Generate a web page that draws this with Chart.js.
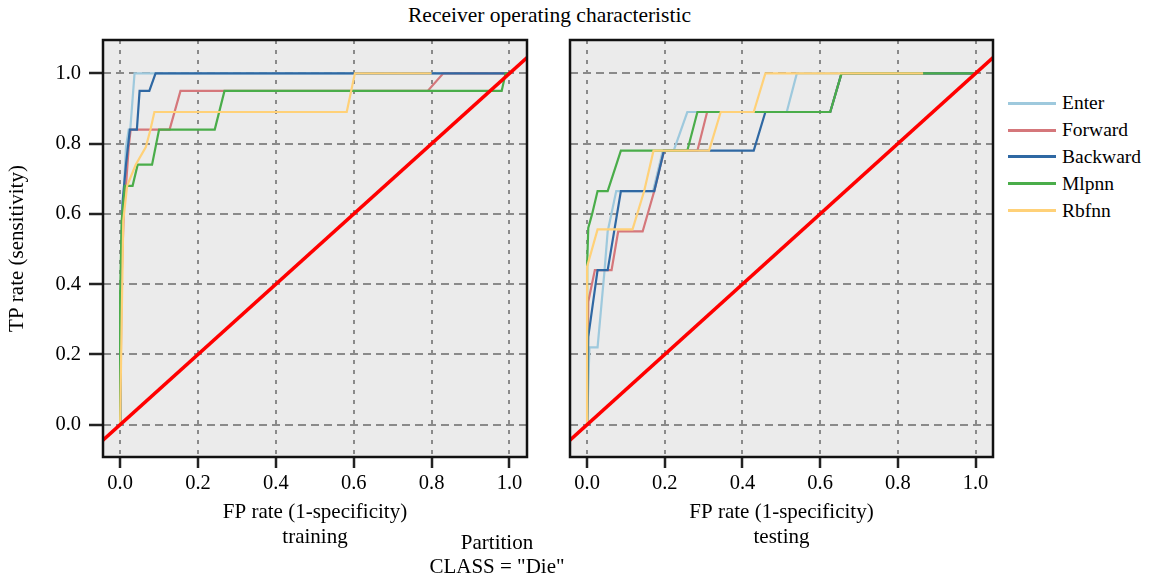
<!DOCTYPE html>
<html>
<head>
<meta charset="utf-8">
<script src="https://cdn.jsdelivr.net/npm/chart.js@4/dist/chart.umd.min.js"></script>
<style>
  body { margin: 0; background: #fff; }
  #wrap { position: relative; width: 1149px; height: 583px; font-family: "Liberation Serif", serif; color: #000; }
  .box { position: absolute; }
  .txt { position: absolute; font-size: 21px; text-align: center; white-space: nowrap; }
  #legend { position: absolute; left: 1008px; top: 90px; font-size: 19.5px; }
  #legend div { height: 26.8px; display: flex; align-items: center; }
  #legend span.ln { display: inline-block; width: 48px; height: 3px; margin-right: 6px; }
</style>
</head>
<body>
<div id="wrap">
  <div class="txt" style="left:0;width:1099px;top:3px;font-size:21.5px;">Receiver operating characteristic</div>
  <div class="box" style="left:0;top:0;"><canvas id="train" width="545" height="550"></canvas></div>
  <div class="box" style="left:545px;top:0;"><canvas id="test" width="460" height="550"></canvas></div>
  <div class="txt" style="left:397px;width:200px;top:530px;line-height:24px;">Partition<br>CLASS = "Die"</div>
  <div id="legend"></div>
</div>
<script>
// legend / series names
const seriesNames = ["Enter", "Forward", "Backward", "Mlpnn", "Rbfnn"];
const seriesColors = ["#9ec9dd", "#d5777b", "#2f68a3", "#4aad4a", "#ffd178"];
const tickValues = [0, 0.2, 0.4, 0.6, 0.8, 1.0];
const diagonal = [-0.1, 1.1];

// training partition: [FP rate, TP rate]
const trainEnter = [[0,0],[0.003,0.42],[0.008,0.63],[0.015,0.79],[0.022,0.84],[0.026,0.84],[0.037,1.0],[1,1]];
const trainForward = [[0,0],[0.004,0.42],[0.01,0.63],[0.015,0.68],[0.022,0.79],[0.027,0.84],[0.127,0.84],[0.155,0.95],[0.79,0.95],[0.83,1.0],[1,1]];
const trainBackward = [[0,0],[0.003,0.47],[0.006,0.63],[0.015,0.74],[0.025,0.84],[0.043,0.84],[0.05,0.95],[0.075,0.95],[0.091,1.0],[1,1]];
const trainMlpnn = [[0,0],[0,0.37],[0.004,0.58],[0.012,0.68],[0.032,0.68],[0.045,0.74],[0.082,0.74],[0.1,0.84],[0.243,0.84],[0.268,0.95],[0.98,0.95],[0.99,1.0],[1,1]];
const trainRbfnn = [[0,0],[0.004,0.3],[0.008,0.58],[0.018,0.68],[0.04,0.74],[0.066,0.79],[0.078,0.84],[0.088,0.89],[0.582,0.89],[0.603,1.0],[0.8,1.0]];

// testing partition
const testEnter = [[0,0],[0.006,0.22],[0.027,0.22],[0.045,0.44],[0.053,0.55],[0.075,0.665],[0.17,0.665],[0.195,0.78],[0.223,0.78],[0.258,0.89],[0.514,0.89],[0.54,1.0],[1,1]];
const testForward = [[0,0],[0.003,0.35],[0.02,0.44],[0.063,0.44],[0.08,0.55],[0.143,0.55],[0.173,0.665],[0.198,0.78],[0.284,0.78],[0.309,0.89],[0.626,0.89],[0.655,1.0],[1,1]];
const testBackward = [[0,0],[0.003,0.25],[0.027,0.44],[0.053,0.44],[0.087,0.665],[0.173,0.665],[0.198,0.78],[0.429,0.78],[0.459,0.89],[0.626,0.89],[0.655,1.0],[1,1]];
const testMlpnn = [[0,0],[0,0.45],[0.003,0.56],[0.013,0.6],[0.027,0.665],[0.053,0.665],[0.087,0.78],[0.258,0.78],[0.284,0.89],[0.626,0.89],[0.655,1.0],[1,1]];
const testRbfnn = [[0,0],[0,0.45],[0.027,0.556],[0.117,0.556],[0.147,0.665],[0.171,0.78],[0.314,0.78],[0.344,0.89],[0.429,0.89],[0.459,1.0],[0.865,1.0]];

const X_MIN = -0.044, X_MAX = 1.045, Y_MIN = -0.092, Y_MAX = 1.095;

Chart.defaults.font.family = '"Liberation Serif", serif';
Chart.defaults.color = "#000";

const panelBox = {
  id: "panelBox",
  beforeDraw(chart) {
    const {ctx, chartArea: a} = chart;
    ctx.save();
    ctx.fillStyle = "#ebebeb";
    ctx.fillRect(a.left, a.top, a.right - a.left, a.bottom - a.top);
    ctx.restore();
  },
  afterDraw(chart) {
    const {ctx, chartArea: a} = chart;
    ctx.save();
    ctx.strokeStyle = "#111";
    ctx.lineWidth = 2.5;
    ctx.strokeRect(a.left, a.top, a.right - a.left, a.bottom - a.top);
    ctx.restore();
  }
};

function toPoints(arr) {
  return arr.map(p => ({x: p[0], y: p[1]}));
}

// lower order is drawn on top: Rbfnn, Mlpnn, Backward, Forward, Enter
const drawOrder = [5, 4, 3, 2, 1];

function makeDatasets(curves) {
  const sets = curves.map((c, i) => ({
    label: seriesNames[i],
    data: toPoints(c),
    borderColor: seriesColors[i],
    borderWidth: 2.2,
    pointRadius: 0,
    order: drawOrder[i]
  }));
  sets.push({
    label: "diag",
    data: diagonal.map(v => ({x: v, y: v})),
    borderColor: "#ff0000",
    borderWidth: 3.5,
    pointRadius: 0,
    clip: 0,
    order: 0
  });
  return sets;
}

function makeChart(id, curves, opts) {
  const setTicks = scale => { scale.ticks = tickValues.map(v => ({value: v})); };
  return new Chart(document.getElementById(id), {
    type: "line",
    data: {datasets: makeDatasets(curves)},
    options: {
      responsive: false,
      animation: false,
      devicePixelRatio: 1,
      layout: {padding: {top: 40, right: opts.padRight, left: 0, bottom: 0}},
      plugins: {legend: {display: false}, tooltip: {enabled: false}},
      scales: {
        x: {
          type: "linear",
          min: X_MIN, max: X_MAX,
          afterBuildTicks: setTicks,
          afterFit: s => { s.height = 93; },
          grid: {color: "#8a8a8a", lineWidth: 2, tickLength: 11, tickColor: "#222", tickWidth: 2.5, tickBorderDash: []},
          border: {display: false, dash: [4, 6]},
          ticks: {font: {size: 20.5}, padding: 3, maxRotation: 0, callback: v => v.toFixed(1)},
          title: {display: true, text: ["FP rate (1-specificity)", opts.part], font: {size: 21, lineHeight: 1.2}, padding: {top: 0, bottom: 0}}
        },
        y: {
          type: "linear",
          min: Y_MIN, max: Y_MAX,
          afterBuildTicks: setTicks,
          afterFit: s => { s.width = opts.yWidth; },
          grid: {color: "#8a8a8a", lineWidth: 2, drawTicks: opts.yLabels, tickLength: 14, tickColor: "#222", tickWidth: 2.5, tickBorderDash: []},
          border: {display: false, dash: [8, 5]},
          ticks: {display: opts.yLabels, font: {size: 20.5}, padding: 8, callback: v => v.toFixed(1)},
          title: {display: opts.yLabels, text: "TP rate (sensitivity)", font: {size: 21, lineHeight: 1.2}, padding: {top: 5, bottom: 0}}
        }
      }
    },
    plugins: [panelBox]
  });
}

makeChart("train", [trainEnter, trainForward, trainBackward, trainMlpnn, trainRbfnn],
  {part: "training", yLabels: true, yWidth: 103, padRight: 18});
makeChart("test", [testEnter, testForward, testBackward, testMlpnn, testRbfnn],
  {part: "testing", yLabels: false, yWidth: 25, padRight: 12});

const legend = document.getElementById("legend");
seriesNames.forEach((name, i) => {
  const row = document.createElement("div");
  const ln = document.createElement("span");
  ln.className = "ln";
  ln.style.background = seriesColors[i];
  row.appendChild(ln);
  row.appendChild(document.createTextNode(name));
  legend.appendChild(row);
});
</script>
</body>
</html>
